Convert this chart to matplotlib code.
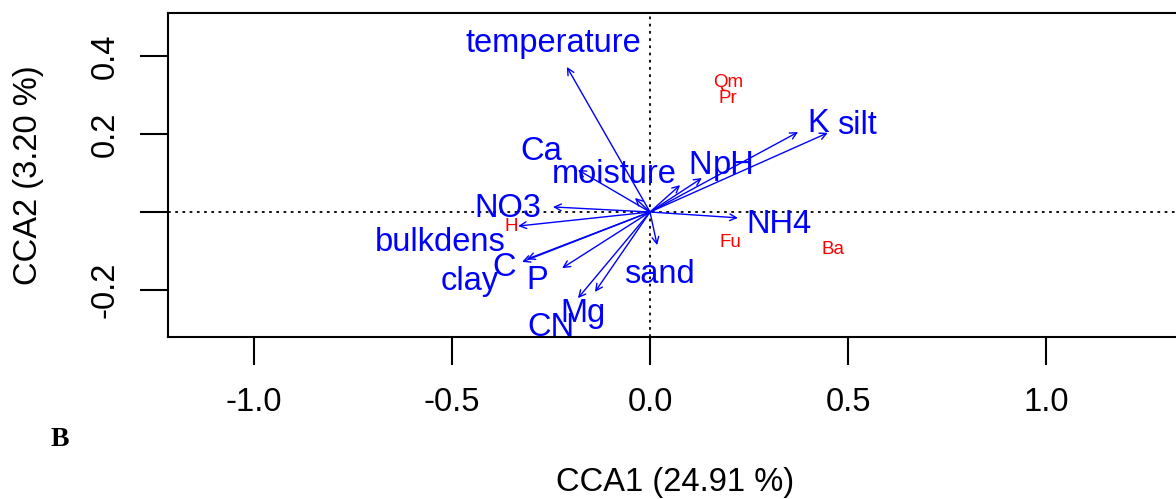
import matplotlib
matplotlib.use("Agg")
import matplotlib.pyplot as plt

# ---- data (CCA biplot scores) ----
env_names = ["temperature", "Ca", "moisture", "N", "pH", "K", "silt", "NH4",
             "NO3", "bulkdens", "C", "clay", "P", "Mg", "CN", "sand"]
env_cca1 = [-0.210, -0.182, -0.038, 0.076, 0.131, 0.374, 0.449, 0.222,
            -0.245, -0.333, -0.311, -0.323, -0.222, -0.139, -0.182, 0.018]
env_cca2 = [0.372, 0.108, 0.036, 0.069, 0.087, 0.205, 0.203, -0.015,
            0.013, -0.036, -0.121, -0.128, -0.144, -0.205, -0.221, -0.085]

species_names = ["Qm", "Pr", "Fu", "Ba", "H"]
species_cca1 = [0.197, 0.197, 0.202, 0.462, -0.351]
species_cca2 = [0.331, 0.292, -0.079, -0.097, -0.036]

x_ticks = [-1.0, -0.5, 0.0, 0.5, 1.0]
x_ticklabels = ["-1.0", "-0.5", "0.0", "0.5", "1.0"]
y_ticks = [-0.2, 0.0, 0.2, 0.4]
y_ticklabels = ["-0.2", "", "0.2", "0.4"]
x_label = "CCA1 (24.91 %)"
y_label = "CCA2 (3.20 %)"
panel_label = "B"

# ---- layout: label positions for the environmental vectors ----
label_pos = {
    "temperature": (-0.245, 0.433), "Ca": (-0.275, 0.154),
    "moisture": (-0.091, 0.097), "N": (0.126, 0.120), "pH": (0.212, 0.120),
    "K": (0.424, 0.226), "silt": (0.523, 0.222), "NH4": (0.326, -0.033),
    "NO3": (-0.359, 0.010), "bulkdens": (-0.530, -0.077),
    "C": (-0.368, -0.142), "clay": (-0.455, -0.179), "P": (-0.284, -0.176),
    "Mg": (-0.170, -0.260), "CN": (-0.250, -0.295), "sand": (0.025, -0.159),
}

plt.rcParams["font.family"] = ["Liberation Sans", "DejaVu Sans"]

fig = plt.figure(figsize=(11.76, 4.99), dpi=100)
ax = fig.add_axes([168 / 1176, (499 - 337) / 499, (1182 - 168) / 1176, 324 / 499])
ax.set_xlim(-1.2172, 1.3434)
ax.set_ylim(-0.3205, 0.5103)

ax.axhline(0, color="black", lw=1.3, ls=(0, (1.5, 2.5)), zorder=1)
ax.axvline(0, color="black", lw=1.3, ls=(0, (1.5, 2.5)), zorder=1)

blue = "#0000FF"
red = "#FF0000"
for name, x, y in zip(env_names, env_cca1, env_cca2):
    ax.annotate("", xy=(x, y), xytext=(0, 0),
                arrowprops=dict(arrowstyle="->", color=blue, lw=1.0,
                                mutation_scale=12, shrinkA=0, shrinkB=0),
                zorder=3)
    lx, ly = label_pos[name]
    ax.text(lx, ly, name, color=blue, fontsize=23.5, ha="center",
            va="center", zorder=4)

for name, x, y in zip(species_names, species_cca1, species_cca2):
    ax.text(x, y, name, color=red, fontsize=13.5, ha="center", va="center",
            zorder=4)

for s in ["left", "top", "bottom"]:
    ax.spines[s].set_linewidth(1.5)
ax.spines["right"].set_visible(False)

ax.set_xticks(x_ticks)
ax.set_xticklabels(x_ticklabels)
ax.set_yticks(y_ticks)
ax.set_yticklabels(y_ticklabels, rotation=90, va="center")
ax.tick_params(axis="both", length=20, width=1.5, labelsize=23.5, pad=14,
               direction="out")
ax.tick_params(axis="x", pad=16)

fig.text(675 / 1176, 1 - 483 / 499, x_label, fontsize=23.5, ha="center",
         va="center")
fig.text(29 / 1176, 1 - 175 / 499, y_label, fontsize=23.5, ha="center",
         va="center", rotation=90)
fig.text(60 / 1176, 1 - 440 / 499, panel_label, fontsize=20,
         fontweight="bold", family="Liberation Serif", ha="center",
         va="center")

fig.savefig("out.png", dpi=100)
